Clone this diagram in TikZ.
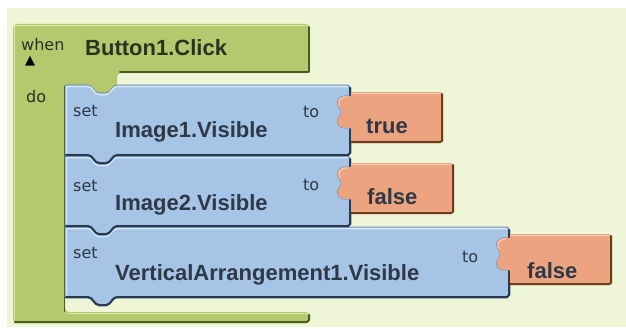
\documentclass[tikz,border=0pt]{standalone}
\usepackage{fontspec}
\setmainfont{Liberation Sans}
\newfontfamily\dvsans{DejaVu Sans}
\definecolor{bgc}{HTML}{EFF5D7}
\definecolor{grn}{HTML}{B6C86E}
\definecolor{grnhi}{HTML}{DCE7A6}
\definecolor{grndark}{HTML}{4C5B1E}
\definecolor{blu}{HTML}{A5C4E6}
\definecolor{bluhi}{HTML}{D6E7F8}
\definecolor{bluedge}{HTML}{5F80A8}
\definecolor{bludark}{HTML}{2A3A4F}
\definecolor{org}{HTML}{EBA380}
\definecolor{orghi}{HTML}{F8D3BE}
\definecolor{orgdark}{HTML}{6E3B1E}
\definecolor{txtblue}{HTML}{2E3846}
\definecolor{txtgrn}{HTML}{2B3320}
\tikzset{
  bigtext/.style={inner sep=0pt, anchor=base west, font=\fontsize{22}{24}\selectfont\bfseries, text=txtblue},
  smalltext/.style={inner sep=0pt, anchor=base west, font=\dvsans\fontsize{16}{18}\selectfont, text=txtblue},
  hiline/.style={line width=1.5pt},
  shadowline/.style={line width=2pt, line cap=round, line join=round},
}
% blue "set" block: #1 top y, #2 right edge x
\newcommand{\bluepiece}[2]{%
 \begin{scope}[shift={(0,#1)}]
  \filldraw[fill=blu, draw=bluedge, line width=0.8pt]
   (65,0) -- (88,0) .. controls (93,0) and (94,8) .. (99,8) -- (106,8) .. controls (111,8) and (112,0) .. (117,0)
   -- ({#2-3},0) -- (#2,3) -- (#2,11) -- ({#2-4},11)
   .. controls ({#2-12},10) and ({#2-16},17) .. ({#2-12},22)
   .. controls ({#2-9},25) and ({#2-9},29) .. ({#2-12},32)
   .. controls ({#2-16},37) and ({#2-12},44) .. ({#2-4},43)
   -- (#2,43) -- (#2,68) -- ({#2-3},71) -- (117,71)
   .. controls (112,71) and (111,79) .. (106,79) -- (99,79) .. controls (94,79) and (93,71) .. (88,71)
   -- (65,71) -- cycle;
  \draw[bluhi, hiline] (66.5,68) -- (66.5,1.5) -- (88,1.5) .. controls (93,1.5) and (94,9.5) .. (99,9.5) -- (106,9.5) .. controls (111,9.5) and (112,1.5) .. (117,1.5) -- ({#2-3},1.5);
  \draw[bludark, shadowline] ({#2-1},3) -- ({#2-1},10);
  \draw[bludark, shadowline] ({#2-1},44) -- ({#2-1},68) -- ({#2-3},70) -- (117,70)
   .. controls (112,70) and (111,78) .. (106,78) -- (99,78) .. controls (94,78) and (93,70) .. (88,70) -- (66,70);
 \end{scope}}
% orange value block: #1 top y of blue block, #2 left edge x, #3 width
\newcommand{\orangepiece}[3]{%
 \begin{scope}[shift={(0,#1)}]
  \fill[org] (#2,7) -- ({#2+#3-3},7) -- ({#2+#3},10) -- ({#2+#3},55) -- ({#2+#3-3},58) -- (#2,58) -- (#2,43)
   -- ({#2-4},43) .. controls ({#2-12},44) and ({#2-16},37) .. ({#2-12},32)
   .. controls ({#2-9},29) and ({#2-9},25) .. ({#2-12},22)
   .. controls ({#2-16},17) and ({#2-12},10) .. ({#2-4},11) -- (#2,11) -- cycle;
  \draw[orghi, hiline] (#2,8.5) -- ({#2+#3-3},8.5);
  \draw[orghi, line width=1pt] ({#2-4},12) .. controls ({#2-11},11.5) and ({#2-14.5},17) .. ({#2-11},22);
  \draw[orgdark, shadowline] ({#2+#3-1},9) -- ({#2+#3-1},56) -- ({#2+#3-3},57) -- (#2,57);
 \end{scope}}
\begin{document}
\begin{tikzpicture}[x=1pt,y=-1pt]
\useasboundingbox (0,0) rectangle (626,329);
\fill[white] (0,0) rectangle (626,329);
\fill[bgc] (7,8) rectangle (626,327);
% event block (C shape)
\fill[grn, rounded corners=4] (13,24) -- (310,24) -- (310,73) -- (117,73) [sharp corners] -- (117,85)
  .. controls (112,85) and (111,93) .. (106,93) -- (99,93) .. controls (94,93) and (93,85) .. (88,85)
  -- (65,85) [rounded corners=4] -- (65,312) -- (310,312) -- (310,323) -- (13,323) -- cycle;
\draw[grnhi, hiline] (14.5,320) -- (14.5,25.5) -- (308,25.5);
\draw[grnhi, line width=1pt] (67,313.5) -- (308,313.5);
\draw[grndark, shadowline] (309,27) -- (309,72) -- (120,72);
\draw[grndark, line width=1.2pt] (64.5,86) -- (64.5,311.5);
\draw[grndark, shadowline] (15,322) -- (307,322) -- (309,320) -- (309,315);
% statement blocks (drawn bottom first)
\bluepiece{227}{510}
\bluepiece{156}{351}
\bluepiece{85}{351}
\orangepiece{85}{351}{92}
\orangepiece{156}{351}{103}
\orangepiece{227}{510}{102}
% texts
\node[smalltext, text=txtgrn] (when) at (21,51) {when};
\node[font=\dvsans\fontsize{13}{15}\selectfont, text=black, inner sep=0pt, anchor=base, text height=8pt, text depth=0pt] (tri) at (30,64) {▲};
\node[bigtext, text=txtgrn] (evt) at (85,56) {Button1.Click};
\node[smalltext, text=txtgrn] (do) at (26,102) {do};
\node[smalltext] (set1) at (73,116) {set};
\node[smalltext] (to1) at (303,117) {to};
\node[bigtext] (prop1) at (115,137) {Image1.Visible};
\node[bigtext] (val1) at (366,133) {true};
\node[smalltext] (set2) at (73,191) {set};
\node[smalltext] (to2) at (303,190) {to};
\node[bigtext] (prop2) at (115,210) {Image2.Visible};
\node[bigtext] (val2) at (367,204) {false};
\node[smalltext] (set3) at (73,258) {set};
\node[smalltext] (to3) at (462,262) {to};
\node[bigtext] (prop3) at (115,280) {VerticalArrangement1.Visible};
\node[bigtext] (val3) at (527,278) {false};
\end{tikzpicture}
\end{document}
